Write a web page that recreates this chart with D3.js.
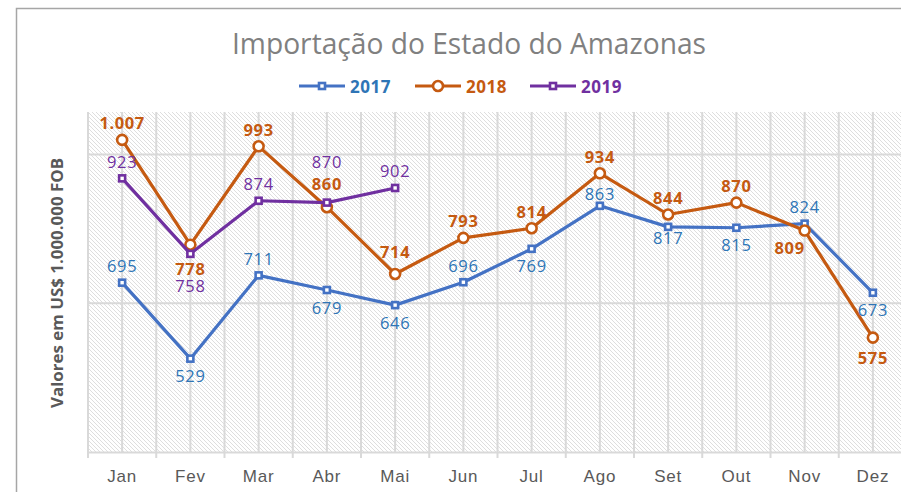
<!DOCTYPE html>
<html lang="pt">
<head>
<meta charset="UTF-8">
<title>Importação do Estado do Amazonas</title>
<style>
  body { margin: 0; background: #fff; }
  svg { display: block; font-family: "Open Sans", sans-serif; }
</style>
</head>
<body>
<script src="https://d3js.org/d3.v7.min.js"></script>
<script>
// dados (US$ milhões FOB)
var meses = ["Jan", "Fev", "Mar", "Abr", "Mai", "Jun", "Jul", "Ago", "Set", "Out", "Nov", "Dez"];
var anos = ["2017", "2018", "2019"];
var v2017 = [695, 529, 711, 679, 646, 696, 769, 863, 817, 815, 824, 673];
var v2018 = [1007, 778, 993, 860, 714, 793, 814, 934, 844, 870, 809, 575];
var v2019 = [923, 758, 874, 870, 902];
var yTicks = [325, 650, 975];
// lado do rótulo: a = acima, b = abaixo
var lado2017 = ["a", "b", "a", "b", "b", "a", "b", "a", "b", "b", "a", "b"];
var lado2018 = ["a", "b", "a", "a", "a", "a", "a", "a", "a", "a", "b", "b"];
var lado2019 = ["a", "b", "a", "a", "a"];

var width = 901, height = 492;
var plot = { left: 88, right: 907, top: 112, bottom: 452 };

var svg = d3.select("body").append("svg")
    .attr("width", width)
    .attr("height", height);

// hachurado do fundo
var defs = svg.append("defs");
defs.append("pattern")
    .attr("id", "hatch")
    .attr("patternUnits", "userSpaceOnUse")
    .attr("width", 4).attr("height", 4)
  .append("path")
    .attr("d", "M-1,-1L5,5M-1,3L1,5M3,-1L5,1")
    .attr("stroke", "#dedede")
    .attr("stroke-width", 1);

// moldura do gráfico
svg.append("rect")
    .attr("x", 16.5).attr("y", 8.5)
    .attr("width", 920).attr("height", 520)
    .attr("fill", "#fff")
    .attr("stroke", "#a6a6a6")
    .attr("stroke-width", 1.5);

var x = d3.scaleBand().domain(meses).range([plot.left, plot.right]).paddingInner(0).paddingOuter(0);
var y = d3.scaleLinear().domain([325, 1068]).range([plot.bottom, plot.top]);
var bw = x.bandwidth();
var cx = function (m) { return x(m) + bw / 2; };

svg.append("rect")
    .attr("x", plot.left).attr("y", plot.top)
    .attr("width", plot.right - plot.left).attr("height", plot.bottom - plot.top)
    .attr("fill", "url(#hatch)");

// linhas de grade
var grade = svg.append("g").attr("stroke", "#d9d9d9").attr("stroke-width", 2);
var vx = [];
meses.forEach(function (m) { vx.push(x(m), cx(m)); });
vx.push(plot.right);
grade.selectAll("line.v").data(vx).enter().append("line")
    .attr("class", "v")
    .attr("x1", function (d) { return d; }).attr("x2", function (d) { return d; })
    .attr("y1", plot.top).attr("y2", plot.bottom);
grade.selectAll("line.h").data(yTicks.slice(1)).enter().append("line")
    .attr("class", "h")
    .attr("x1", plot.left).attr("x2", plot.right)
    .attr("y1", function (d) { return y(d); }).attr("y2", function (d) { return y(d); });

// eixo x
var eixoX = svg.append("g")
    .attr("transform", "translate(0," + y(yTicks[0]) + ")")
    .call(d3.axisBottom(x).tickSize(0).tickPadding(18));
eixoX.select(".domain").attr("stroke", "#d9d9d9").attr("stroke-width", 2);
eixoX.selectAll("text")
    .attr("fill", "#595959")
    .style("font-size", "17px")
    .style("letter-spacing", "0.8px");
eixoX.selectAll("line.limite").data(meses.concat(["fim"])).enter().append("line")
    .attr("class", "limite")
    .attr("x1", function (d, i) { return i < meses.length ? x(d) : plot.right; })
    .attr("x2", function (d, i) { return i < meses.length ? x(d) : plot.right; })
    .attr("y1", 0).attr("y2", 6)
    .attr("stroke", "#d9d9d9").attr("stroke-width", 2);

// título do eixo y
svg.append("text")
    .attr("transform", "translate(63,283) rotate(-90)")
    .attr("text-anchor", "middle")
    .attr("textLength", 250)
    .attr("lengthAdjust", "spacingAndGlyphs")
    .attr("fill", "#595959")
    .style("font-size", "16px")
    .style("font-weight", "bold")
    .text("Valores em US$ 1.000.000 FOB");

// título
svg.append("text")
    .attr("x", 232).attr("y", 54)
    .attr("textLength", 474)
    .attr("lengthAdjust", "spacingAndGlyphs")
    .attr("fill", "#808080")
    .style("font-size", "29px")
    .text("Importação do Estado do Amazonas");

var series = [
  { nome: anos[0], valores: v2017, lado: lado2017, cor: "#4472c4", rotulo: "#2e75b6", peso: "normal", marca: "quadrado" },
  { nome: anos[1], valores: v2018, lado: lado2018, cor: "#c55a11", rotulo: "#c55a11", peso: "bold", marca: "circulo" },
  { nome: anos[2], valores: v2019, lado: lado2019, cor: "#7030a0", rotulo: "#7030a0", peso: "normal", marca: "quadrado" }
];

function desenhaMarca(g, tipo, cor) {
  if (tipo === "circulo") {
    g.append("circle").attr("r", 5).attr("fill", "#fff").attr("stroke", cor).attr("stroke-width", 2.6);
  } else {
    g.append("rect").attr("x", -3).attr("y", -3).attr("width", 6).attr("height", 6)
        .attr("fill", "#fff").attr("stroke", cor).attr("stroke-width", 2.6);
  }
}

var linha = d3.line()
    .x(function (d, i) { return cx(meses[i]); })
    .y(function (d) { return y(d); });

series.forEach(function (s) {
  svg.append("path")
      .datum(s.valores)
      .attr("d", linha)
      .attr("fill", "none")
      .attr("stroke", s.cor)
      .attr("stroke-width", 3.2)
      .attr("stroke-linejoin", "round");
  s.valores.forEach(function (v, i) {
    var g = svg.append("g").attr("transform", "translate(" + cx(meses[i]) + "," + y(v) + ")");
    desenhaMarca(g, s.marca, s.cor);
  });
});

// rótulos movidos à mão no original
var ajustes = {
  "2017-7": [0, -12], "2017-8": [0, 11],
  "2018-1": [0, 24], "2018-3": [0, -24], "2018-4": [0, -22], "2018-10": [-15, 17], "2018-11": [0, 20],
  "2019-1": [0, 32], "2019-3": [0, -41]
};
var fmt = d3.formatLocale({ decimal: ",", thousands: ".", grouping: [3] }).format(",d");

series.forEach(function (s) {
  svg.append("g").selectAll("text").data(s.valores).enter().append("text")
      .attr("x", function (d, i) {
        var a = ajustes[s.nome + "-" + i];
        return cx(meses[i]) + (a ? a[0] : 0);
      })
      .attr("y", function (d, i) {
        var a = ajustes[s.nome + "-" + i];
        var dy = a ? a[1] : (s.lado[i] === "a" ? -17 : 17);
        return y(d) + dy;
      })
      .attr("text-anchor", "middle")
      .attr("dominant-baseline", "central")
      .attr("fill", s.rotulo)
      .style("font-size", "16.5px")
      .style("font-weight", s.peso)
      .style("letter-spacing", "0.6px")
      .text(function (d) { return fmt(d); });
});

// legenda
var legX = [299, 415, 530];
var leg = svg.append("g");
series.forEach(function (s, i) {
  var g = leg.append("g").attr("transform", "translate(" + legX[i] + ",86)");
  g.append("line").attr("x1", 0).attr("x2", 46).attr("stroke", s.cor).attr("stroke-width", 3.2);
  desenhaMarca(g.append("g").attr("transform", "translate(23,0)"), s.marca, s.cor);
  g.append("text")
      .attr("x", 51).attr("dominant-baseline", "central")
      .attr("fill", s.rotulo)
      .style("font-size", "17px")
      .style("font-weight", "bold")
      .style("letter-spacing", "0.5px")
      .text(s.nome);
});
</script>
</body>
</html>
